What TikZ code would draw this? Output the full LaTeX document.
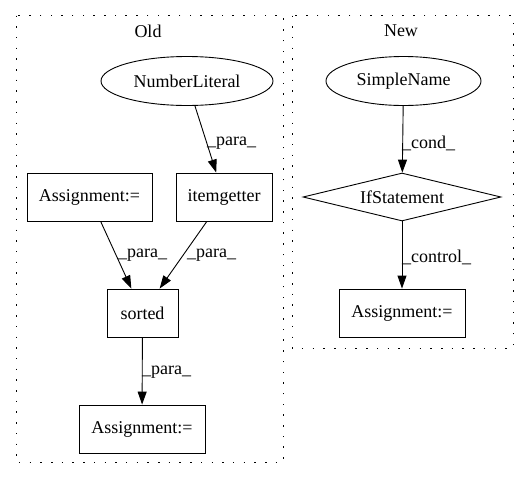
\documentclass[tikz,border=0pt]{standalone}
\usepackage{fontspec}
\setmainfont{Liberation Serif}
\usetikzlibrary{shapes.geometric,arrows.meta}
\begin{document}
\begin{tikzpicture}[x=1pt,y=-1pt,
  every node/.style={font=\fontsize{18}{20}\selectfont, inner sep=0pt},
  rbox/.style={draw, line width=0.9pt, rectangle, minimum height=48pt},
  oval/.style={draw, line width=0.9pt, ellipse, minimum height=49pt},
  dmd/.style={draw, line width=0.9pt, diamond, aspect=4.1, minimum height=48pt, minimum width=198pt},
  cluster/.style={draw, line width=1pt, dash pattern=on 1.5pt off 9.2pt},
  edge/.style={draw, line width=0.9pt, -{Triangle[length=13pt,width=9pt]}},
  elab/.style={anchor=west}
]
\useasboundingbox (0,0) rectangle (528,480);
\draw[cluster] (16,15.5) rectangle (283,462);
\draw[cluster] (292,15.5) rectangle (513,348);
\node (oldl) at (148,31) {Old};
\node (newl) at (401,31) {New};

\node[oval, minimum width=172pt] (nl) at (187,81) {NumberLiteral};
\node[rbox, minimum width=96pt] (ig) at (224,197) {itemgetter};
\node[rbox, minimum width=125pt] (a1) at (89.5,197) {Assignment:=};
\node[rbox, minimum width=71pt] (so) at (142.5,313) {sorted};
\node[rbox, minimum width=126pt] (a2) at (142,429) {Assignment:=};

\node[oval, minimum width=155pt] (sn) at (403.5,81) {SimpleName};
\node[dmd] (if) at (402,197) {IfStatement};
\node[rbox, minimum width=126pt] (a3) at (402,313) {Assignment:=};

\draw[edge] (nl) -- (ig);
\draw[edge] (a1) -- (so);
\draw[edge] (ig) -- (so);
\draw[edge] (so) -- (a2);
\draw[edge] (sn) -- (if);
\draw[edge] (if) -- (a3);

\node[elab] (l1) at (207,143) {\_para\_};
\node[elab] (l2) at (118,255) {\_para\_};
\node[elab] (l3) at (187,255) {\_para\_};
\node[elab] (l4) at (142,372) {\_para\_};
\node[elab] (l5) at (402,143) {\_cond\_};
\node[elab] (l6) at (402,257) {\_control\_};
\end{tikzpicture}
\end{document}
